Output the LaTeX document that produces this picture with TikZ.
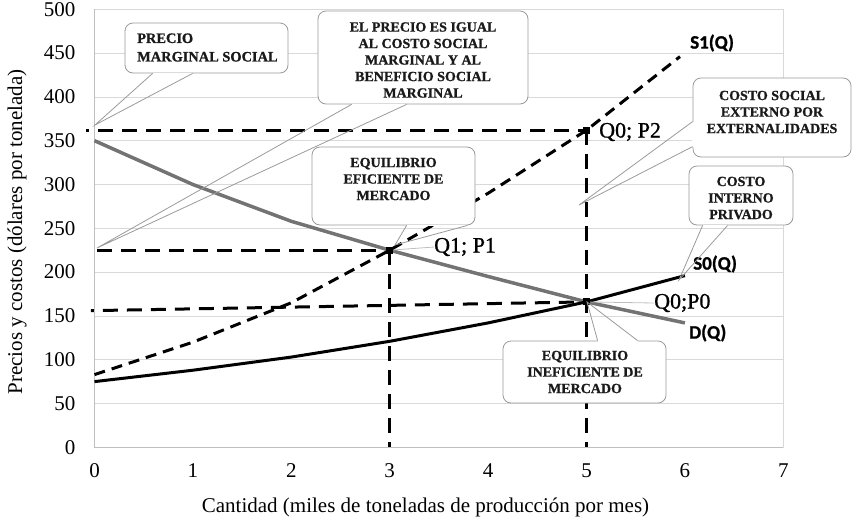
\documentclass[tikz,border=0pt]{standalone}
\usepackage{fontspec}
\setmainfont{Liberation Serif}
\newfontfamily\lblfont[BoldFeatures={FakeBold=1.2}]{Carlito}
\newfontfamily\ptfont[FakeBold=0.9]{Liberation Serif}
\newfontfamily\calfont[BoldFeatures={FakeBold=0.9}]{Liberation Serif}
\definecolor{gridc}{HTML}{D9D9D9}
\definecolor{axisc}{HTML}{BFBFBF}
\definecolor{demc}{HTML}{737373}
\definecolor{callc}{HTML}{9A9A9A}
\definecolor{txtc}{HTML}{1A1A1A}
\newcommand\wedgeptr[3]{%
  \draw[white, line width=1.8pt] #1 -- #2;
  \draw[cline] #1 -- #3 -- #2;}
\begin{document}
\begin{tikzpicture}[x=1pt,y=-1pt,
  tick/.style={font=\fontsize{21}{24}\selectfont, inner sep=0pt},
  axtitle/.style={font=\fontsize{21}{24}\selectfont, inner sep=0pt},
  ptlabel/.style={font=\ptfont\fontsize{22}{24}\selectfont, inner sep=0pt, anchor=west},
  curvelabel/.style={font=\lblfont\bfseries\fontsize{19}{22}\selectfont, inner sep=0pt, anchor=west},
  cbox/.style={draw=callc, fill=white, rounded corners=8pt, line width=0.8pt, inner sep=0pt},
  ctext/.style={font=\calfont\bfseries\fontsize{14}{16.5}\selectfont, align=center, inner sep=0pt, text=txtc},
  cline/.style={draw=callc, line width=0.8pt},
  refdash/.style={line width=3pt, dash pattern=on 15pt off 9pt},
  marker/.style={rectangle, fill=black, minimum size=7pt, inner sep=0pt},
  leader/.style={draw=gridc!70!gray, line width=0.8pt}
]
\useasboundingbox (0,0) rectangle (853,523);
\begin{scope}[shift={(94.5pt,-447.3pt)}, x=98.4pt, y=0.876pt]
  % grid and frame
  \foreach \v in {50,100,...,450} \draw[gridc, line width=0.8pt] (0,\v) -- (7,\v);
  \draw[gridc, line width=0.8pt] (0,0) rectangle (7,500);
  \draw[axisc, line width=1pt] (0,500) -- (0,0) -- (7,0);
  % tick labels
  \foreach \v in {0,50,...,500} \node[tick, anchor=east] (ty\v) at ([xshift=-19pt]0,\v) {\v};
  \foreach \i in {0,...,7} \node[tick] (tx\i) at ([yshift=-23pt]\i,0) {\i};
  % reference dashed lines
  \draw[refdash, dash phase=12pt] (-0.086,362) -- (5,362);
  \draw[refdash] (0.03,225) -- (3,225);
  \draw[refdash, dash phase=12pt] (-0.036,156) -- (5,166);
  \draw[refdash] (3,225) -- (3,0);
  \draw[refdash] (5,362) -- (5,0);
  % curves
  \draw[demc, line width=3.5pt, line join=round]
    (0,350) -- (1,300) -- (2,258) -- (3,225) -- (4,195) -- (5,166) -- (6,142);
  \draw[black, line width=3pt, line join=round]
    (0,75) -- (1,88) -- (2,103) -- (3,121) -- (4,142) -- (5,166) -- (6,196);
  \draw[black, line width=3pt, dash pattern=on 11pt off 7pt, line join=round]
    (0,83) -- (1,120) -- (2,165) -- (3,225) -- (4,290) -- (5,362) -- (5.95,446);
  % markers
  \node[marker] (m1) at (3,225) {};
  \node[marker] (m2) at (5,362) {};
  \node[marker] (m3) at (5,166) {};
\end{scope}
% axis titles
\node[axtitle, rotate=90] (ytitle) at (17,232) {Precios y costos (dólares por tonelada)};
\node[axtitle] (xtitle) at (425.5,507) {Cantidad (miles de toneladas de producción por mes)};
% point labels
\node[ptlabel] (lq1) at (434,247) {Q1; P1};
\node[ptlabel] (lq2) at (599,132) {Q0; P2};
\node[ptlabel] (lq0) at (654,303) {Q0;P0};
\draw[leader] (m1) -- (lq1.west);
\draw[leader] (m3) -- (lq0.west);
% curve labels
\node[curvelabel] (ls1) at (690,43) {S1(Q)};
\node[curvelabel] (ls0) at (693,264) {S0(Q)};
\node[curvelabel] (ld) at (689,333) {D(Q)};
% callouts
\node[cbox, minimum width=163pt, minimum height=50pt] (b1) at (206.5,48) {};
\node[ctext, align=left, anchor=west, font=\calfont\bfseries\fontsize{14.4}{18.5}\selectfont] (t1) at (137,47.5) {PRECIO\\MARGINAL SOCIAL};
\coordinate (p1) at (95,125);
\wedgeptr{([xshift=28pt]b1.south west)}{([xshift=68pt]b1.south west)}{(p1)}

\node[cbox, minimum width=210pt, minimum height=93pt] (b2) at (423,57.5) {};
\node[ctext] (t2) at (423,60) {EL PRECIO ES IGUAL\\AL COSTO SOCIAL\\MARGINAL Y AL\\BENEFICIO SOCIAL\\MARGINAL};
\coordinate (p2) at (97,248);
\wedgeptr{([xshift=34pt]b2.south west)}{([xshift=89pt]b2.south west)}{(p2)}

\node[cbox, minimum width=163pt, minimum height=78pt] (b3) at (393.5,186) {};
\node[ctext] (t3) at (393.5,179) {EQUILIBRIO\\EFICIENTE DE\\MERCADO};
\coordinate (p3) at (395,245);
\wedgeptr{([xshift=95pt]b3.south west)}{([xshift=156pt]b3.south west)}{(p3)}

\node[cbox, minimum width=158pt, minimum height=79pt] (b4) at (772,117.5) {};
\node[ctext] (t4) at (772,112) {COSTO SOCIAL\\EXTERNO POR\\EXTERNALIDADES};
\coordinate (p4) at (579,205);
\wedgeptr{([yshift=-44pt]b4.north west)}{([yshift=-69pt]b4.north west)}{(p4)}

\node[cbox, minimum width=104pt, minimum height=59pt] (b5) at (741,195.5) {};
\node[ctext] (t5) at (741,198) {COSTO\\INTERNO\\PRIVADO};
\coordinate (p5) at (679,280);
\wedgeptr{([xshift=14pt]b5.south west)}{([xshift=39pt]b5.south west)}{(p5)}

\node[cbox, minimum width=163pt, minimum height=62pt] (b6) at (584.5,372) {};
\node[ctext] (t6) at (585,372) {EQUILIBRIO\\INEFICIENTE DE\\MERCADO};
\coordinate (p6) at (587,302);
\wedgeptr{([xshift=95pt]b6.north west)}{([xshift=135pt]b6.north west)}{(p6)}
\end{tikzpicture}
\end{document}
